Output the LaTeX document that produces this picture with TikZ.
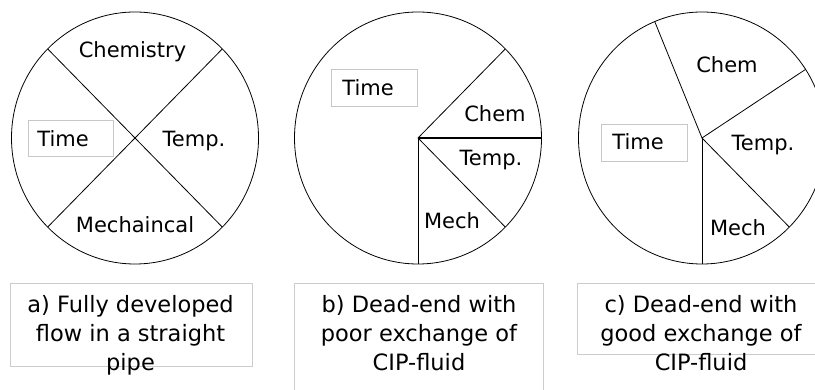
\documentclass[tikz,border=0pt]{standalone}
\usepackage{fontspec}
\setmainfont{DejaVu Sans}
\begin{document}
\begin{tikzpicture}[x=1pt,y=-1pt,
  disc/.style={draw=black,line width=0.8pt},
  cut/.style={draw=black,line width=0.8pt},
  thickcut/.style={draw=black,line width=1.6pt},
  lbl/.style={anchor=base,inner sep=0pt,font=\fontsize{21}{25}\selectfont},
  tbox/.style={draw=black!22,line width=0.8pt},
  captext/.style={anchor=north,inner sep=0pt,align=center,font=\fontsize{22.5}{29}\selectfont},
  capbox/.style={draw=black!20,line width=0.8pt}]
\useasboundingbox (0,0) rectangle (815,390);

% --- a) four equal sectors ---
\coordinate (ca) at (135,138);
\draw[disc] (ca) ellipse [x radius=123.5, y radius=126];
\draw[cut] (ca) -- ++(45:123.5 and -126) coordinate (a1);
\draw[cut] (ca) -- ++(135:123.5 and -126) coordinate (a2);
\draw[cut] (ca) -- ++(225:123.5 and -126) coordinate (a3);
\draw[cut] (ca) -- ++(315:123.5 and -126) coordinate (a4);
\draw[tbox] (28,120) rectangle (113,156);
\node[lbl] (achem) at (132.5,58) {Chemistry};
\node[lbl] (atemp) at (194,147) {Temp.};
\node[lbl] (atime) at (63,147) {Time};
\node[lbl] (amech) at (135,233) {Mechaincal};

% --- b) dead-end, poor exchange ---
\coordinate (cb) at (418,138);
\draw[disc] (cb) ellipse [x radius=123.5, y radius=126];
\draw[cut] (cb) -- ++(45:123.5 and -126) coordinate (b1);
\draw[thickcut] (cb) -- ++(0:123.5 and -126) coordinate (b2);
\draw[cut] (cb) -- ++(-45:123.5 and -126) coordinate (b3);
\draw[cut] (cb) -- ++(-90:123.5 and -126) coordinate (b4);
\draw[tbox] (331,69) rectangle (417,106);
\node[lbl] (btime) at (368,96) {Time};
\node[lbl] (bchem) at (495,122) {Chem};
\node[lbl] (btemp) at (491,166) {Temp.};
\node[lbl] (bmech) at (452,229) {Mech};

% --- c) dead-end, good exchange ---
\coordinate (cc) at (702,138);
\draw[disc] (cc) ellipse [x radius=123.5, y radius=126];
\draw[cut] (cc) -- ++(112.5:123.5 and -126) coordinate (c1);
\draw[cut] (cc) -- ++(33:123.5 and -126) coordinate (c2);
\draw[cut] (cc) -- ++(-45:123.5 and -126) coordinate (c3);
\draw[cut] (cc) -- ++(-90:123.5 and -126) coordinate (c4);
\draw[tbox] (601,124) rectangle (687,161);
\node[lbl] (ctime) at (638,150) {Time};
\node[lbl] (cchem) at (727,73) {Chem};
\node[lbl] (ctemp) at (763,151) {Temp.};
\node[lbl] (cmech) at (738,236) {Mech};

% --- captions ---
\draw[capbox] (10,283) rectangle (252,366);
\draw[capbox] (294,283) rectangle (543,400);
\draw[capbox] (577,283) rectangle (830,354);
\node[captext] (capa) at (130.5,295.5) {a) Fully developed\\flow in a straight\\pipe};
\node[captext] (capb) at (419,295.5) {b) Dead-end with\\poor exchange of\\CIP-fluid};
\node[captext] (capc) at (701,295.5) {c) Dead-end with\\good exchange of\\CIP-fluid};
\end{tikzpicture}
\end{document}
